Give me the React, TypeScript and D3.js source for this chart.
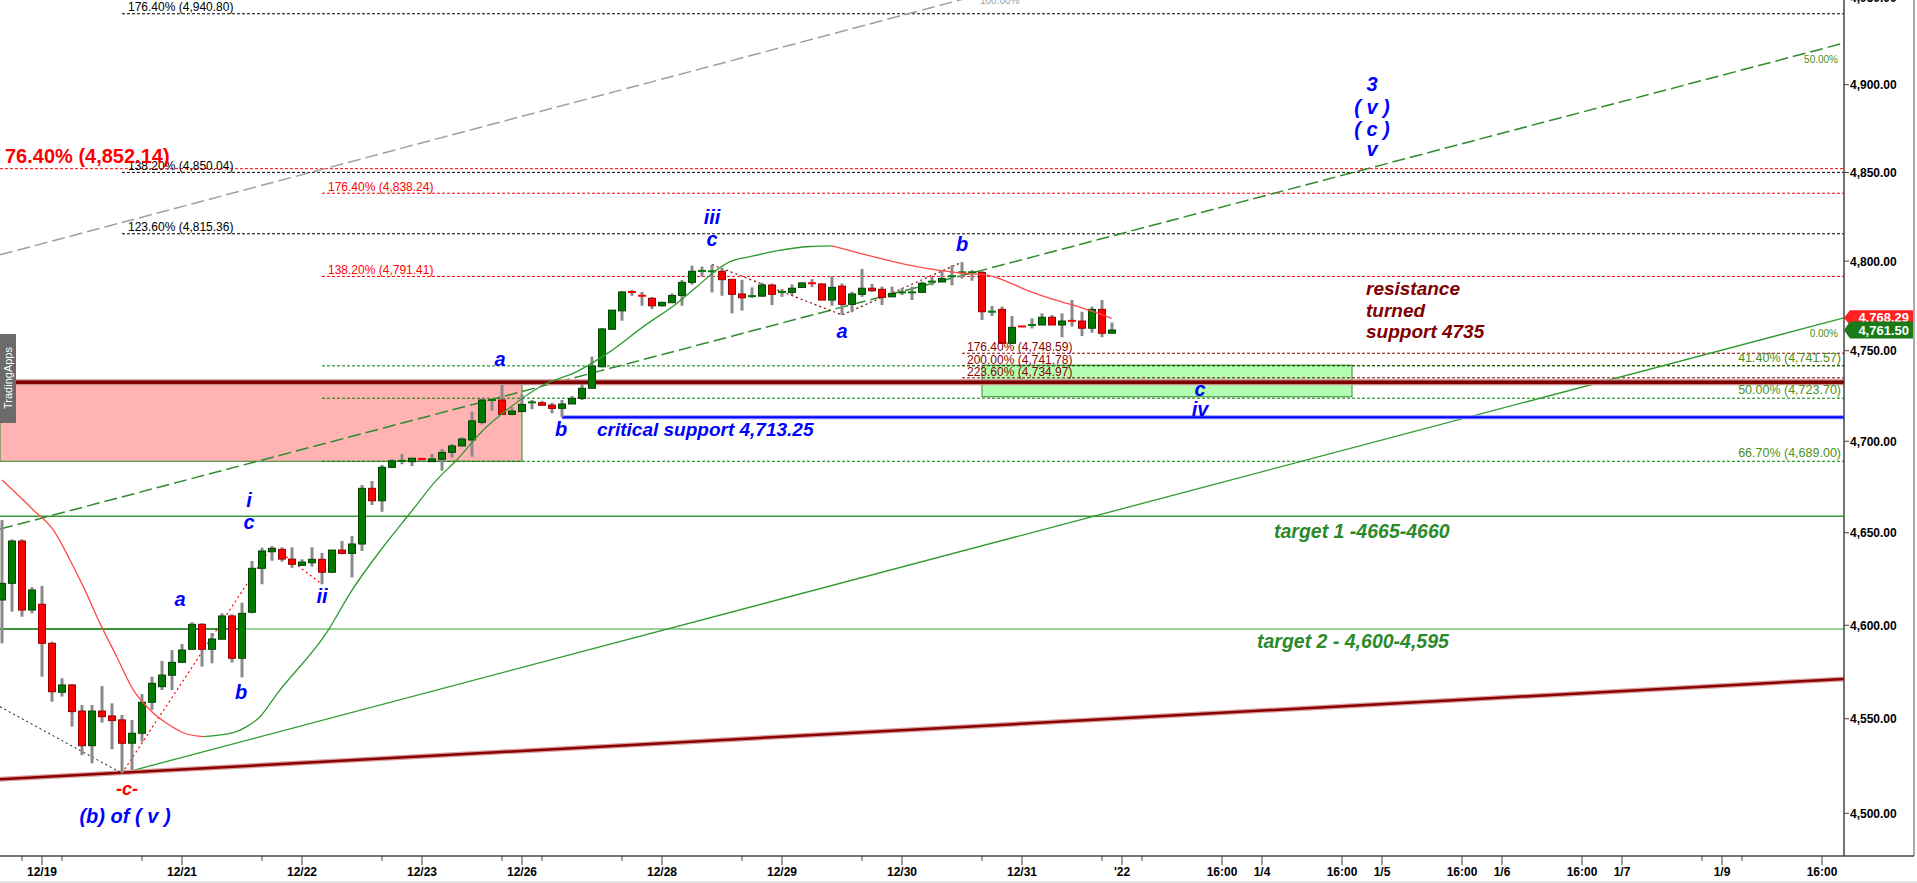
import * as d3 from "d3"

// ES futures, 2h bars from the 12/19 evening session to 12/31 close: [open, high, low, close]
const candles: [number, number, number, number][] = [
  [4613.6, 4656.9, 4590.3, 4622.6],
  [4622.6, 4646.4, 4607.3, 4645.5],
  [4645.5, 4646.4, 4604.6, 4608.2],
  [4608.2, 4620.5, 4606.4, 4619.0],
  [4611.3, 4621.2, 4572.4, 4590.3],
  [4590.3, 4591.2, 4559.1, 4564.4],
  [4564.1, 4571.6, 4561.8, 4568.0],
  [4568.0, 4568.5, 4545.8, 4553.8],
  [4554.1, 4557.3, 4530.7, 4535.7],
  [4535.7, 4557.3, 4526.4, 4554.1],
  [4554.1, 4567.4, 4547.9, 4551.1],
  [4551.5, 4558.2, 4533.8, 4549.0],
  [4549.4, 4552.0, 4521.1, 4537.0],
  [4537.0, 4549.4, 4522.8, 4542.3],
  [4542.3, 4563.2, 4537.8, 4558.8],
  [4558.8, 4572.4, 4554.7, 4568.9],
  [4567.1, 4580.8, 4565.3, 4573.3],
  [4573.2, 4586.7, 4565.3, 4580.1],
  [4580.1, 4589.9, 4580.0, 4586.7],
  [4587.1, 4601.6, 4587.1, 4600.5],
  [4600.5, 4601.1, 4577.8, 4587.1],
  [4587.1, 4595.8, 4579.6, 4592.6],
  [4592.5, 4606.4, 4592.5, 4605.0],
  [4605.0, 4605.9, 4580.0, 4582.3],
  [4582.3, 4612.1, 4572.1, 4606.4],
  [4607.0, 4634.7, 4606.4, 4630.7],
  [4630.7, 4641.9, 4622.1, 4640.1],
  [4639.7, 4642.8, 4634.8, 4641.5],
  [4641.0, 4642.1, 4634.3, 4635.7],
  [4635.7, 4642.1, 4631.0, 4632.9],
  [4632.3, 4635.6, 4632.3, 4634.1],
  [4633.7, 4642.1, 4631.6, 4635.6],
  [4635.6, 4639.1, 4622.1, 4628.6],
  [4628.6, 4640.6, 4628.1, 4640.6],
  [4640.6, 4645.5, 4638.3, 4638.8],
  [4638.8, 4648.2, 4625.8, 4643.9],
  [4643.9, 4676.0, 4640.1, 4674.2],
  [4674.2, 4678.2, 4665.1, 4667.4],
  [4667.4, 4687.0, 4661.4, 4685.7],
  [4685.7, 4690.4, 4685.2, 4689.2],
  [4688.6, 4693.0, 4687.4, 4689.2],
  [4688.8, 4690.7, 4686.4, 4690.7],
  [4690.3, 4690.5, 4688.8, 4689.0],
  [4688.8, 4693.0, 4688.8, 4690.3],
  [4690.1, 4695.7, 4683.8, 4693.9],
  [4693.9, 4698.5, 4691.0, 4697.4],
  [4697.4, 4702.2, 4697.4, 4701.2],
  [4700.7, 4716.3, 4691.5, 4711.2],
  [4710.4, 4723.6, 4709.3, 4722.7],
  [4722.4, 4723.6, 4716.8, 4722.7],
  [4722.7, 4731.0, 4714.8, 4714.8],
  [4714.8, 4718.7, 4714.3, 4716.6],
  [4716.3, 4726.0, 4716.3, 4720.3],
  [4720.3, 4722.7, 4717.6, 4721.4],
  [4721.2, 4722.3, 4719.8, 4719.8],
  [4719.9, 4721.2, 4715.4, 4718.1],
  [4718.1, 4722.7, 4713.25, 4720.5],
  [4720.5, 4725.0, 4720.5, 4723.6],
  [4723.6, 4731.4, 4722.7, 4729.2],
  [4729.2, 4746.7, 4729.2, 4741.5],
  [4741.1, 4762.5, 4740.8, 4762.1],
  [4761.9, 4772.6, 4761.9, 4772.6],
  [4772.2, 4783.3, 4766.7, 4782.7],
  [4782.7, 4783.8, 4780.6, 4782.4],
  [4780.6, 4782.7, 4775.0, 4780.3],
  [4779.2, 4779.9, 4773.2, 4775.0],
  [4775.0, 4777.3, 4774.5, 4776.9],
  [4776.7, 4781.9, 4776.7, 4780.8],
  [4780.8, 4789.4, 4775.0, 4788.1],
  [4788.1, 4797.5, 4786.8, 4794.3],
  [4794.3, 4796.9, 4791.3, 4794.5],
  [4794.2, 4798.0, 4782.5, 4794.3],
  [4794.3, 4796.0, 4780.6, 4789.6],
  [4789.8, 4790.0, 4770.8, 4781.4],
  [4781.6, 4789.5, 4772.3, 4779.5],
  [4780.3, 4785.3, 4779.5, 4780.4],
  [4780.4, 4787.9, 4780.0, 4786.6],
  [4786.6, 4787.4, 4775.4, 4781.4],
  [4782.5, 4784.4, 4780.0, 4782.7],
  [4782.5, 4787.0, 4781.0, 4784.8],
  [4785.2, 4788.0, 4785.0, 4787.8],
  [4787.6, 4789.9, 4785.4, 4787.3],
  [4787.2, 4787.5, 4778.2, 4778.2],
  [4778.2, 4791.6, 4775.0, 4785.3],
  [4786.0, 4787.5, 4769.9, 4775.8],
  [4775.8, 4782.9, 4771.4, 4781.6],
  [4781.4, 4795.6, 4780.0, 4784.8],
  [4784.8, 4787.2, 4782.9, 4783.4],
  [4784.2, 4785.7, 4775.4, 4779.7],
  [4780.0, 4785.7, 4780.0, 4781.9],
  [4782.4, 4784.8, 4781.0, 4782.5],
  [4782.4, 4785.7, 4778.2, 4782.5],
  [4782.5, 4788.5, 4782.5, 4787.6],
  [4788.4, 4791.1, 4786.4, 4788.5],
  [4788.3, 4794.4, 4788.3, 4790.2],
  [4790.2, 4797.7, 4786.4, 4791.5],
  [4793.6, 4799.4, 4790.2, 4793.7],
  [4793.6, 4794.9, 4789.0, 4793.7],
  [4793.7, 4794.3, 4767.1, 4771.7],
  [4771.6, 4774.9, 4769.3, 4771.7],
  [4773.0, 4774.6, 4753.7, 4754.1],
  [4754.1, 4769.3, 4753.8, 4763.0],
  [4763.5, 4763.7, 4763.0, 4763.2],
  [4763.0, 4768.0, 4762.4, 4764.3],
  [4764.3, 4770.8, 4764.3, 4768.6],
  [4768.6, 4769.9, 4764.3, 4764.3],
  [4764.3, 4770.8, 4757.5, 4766.5],
  [4766.6, 4778.2, 4763.4, 4766.4],
  [4766.5, 4771.7, 4758.1, 4762.5],
  [4762.5, 4774.5, 4760.0, 4773.0],
  [4773.0, 4778.2, 4757.5, 4759.7],
  [4759.7, 4765.7, 4759.7, 4761.5],
]

// smoothed trend indicator (bar index, price)
const trendCurve = [
  { i: 0, p: 4678.8 }, { i: 3.13, p: 4662.4 }, { i: 5.13, p: 4651.5 }, { i: 6.8, p: 4635.2 },
  { i: 8.13, p: 4620.8 }, { i: 9.8, p: 4601.0 }, { i: 11.47, p: 4583.1 }, { i: 13.13, p: 4565.4 },
  { i: 14.8, p: 4554.7 }, { i: 16.47, p: 4547.6 }, { i: 18.47, p: 4541.9 }, { i: 20.13, p: 4540.5 },
  { i: 23.13, p: 4542.6 }, { i: 24.47, p: 4545.8 }, { i: 25.8, p: 4551.1 }, { i: 27.56, p: 4563.7 },
  { i: 32.63, p: 4597.4 }, { i: 34.8, p: 4617.2 }, { i: 38.13, p: 4642.4 }, { i: 40.8, p: 4660.6 },
  { i: 43.47, p: 4678.8 }, { i: 45.47, p: 4689.7 }, { i: 48.13, p: 4706.2 }, { i: 50.47, p: 4717.2 },
  { i: 54.13, p: 4731.0 }, { i: 57.47, p: 4738.4 }, { i: 60.8, p: 4749.5 }, { i: 64.13, p: 4763.4 },
  { i: 67.47, p: 4776.3 }, { i: 69.47, p: 4785.6 }, { i: 71.47, p: 4795.0 }, { i: 72.8, p: 4799.7 },
  { i: 74.8, p: 4802.5 }, { i: 77.47, p: 4805.7 }, { i: 80.78, p: 4808.2 }, { i: 82.97, p: 4808.6 },
  { i: 85.8, p: 4804.4 }, { i: 89.13, p: 4799.7 }, { i: 91.47, p: 4796.9 }, { i: 94.13, p: 4794.5 },
  { i: 96.13, p: 4793.2 }, { i: 98.47, p: 4792.2 }, { i: 100.13, p: 4789.4 }, { i: 102.47, p: 4783.8 },
  { i: 104.8, p: 4779.1 }, { i: 107.13, p: 4775.4 }, { i: 109.13, p: 4771.7 }, { i: 110.97, p: 4768.0 },
]

// fibonacci levels: value, label, first bar
const blackLevels = [
  { value: 4940.8, text: "176.40% (4,940.80)", from: 12 },
  { value: 4850.04, text: "138.20% (4,850.04)", from: 12 },
  { value: 4815.36, text: "123.60% (4,815.36)", from: 12 },
]
const redLevels = [
  { value: 4838.24, text: "176.40% (4,838.24)", from: 32 },
  { value: 4791.41, text: "138.20% (4,791.41)", from: 32 },
]
const mainRetrace = { value: 4852.14, text: "76.40% (4,852.14)", from: -0.2 }
const extLevels = [
  { value: 4748.59, text: "176.40% (4,748.59)", from: 96 },
  { value: 4741.78, text: "200.00% (4,741.78)", from: 96 },
  { value: 4734.97, text: "223.60% (4,734.97)", from: 96 },
]
const greenLevels = [
  { value: 4741.57, text: "41.40% (4,741.57)", from: 32 },
  { value: 4723.7, text: "50.00% (4,723.70)", from: 32 },
  { value: 4689.0, text: "66.70% (4,689.00)", from: 32 },
]

const turnedSupport = 4732.5
const criticalSupport = { value: 4713.25, from: 56 }
const target1 = 4659
const target2 = 4598
const lastPrice = 4761.5
const trendPrice = 4768.29

const pinkZone = { from: -0.2, to: 52, top: 4732.5, bottom: 4689 }
const greenZone = { from: 98, to: 135, top: 4742, bottom: 4724.5 }

// trend lines and wave legs (bar index, price)
const baseTrend = [{ i: -0.2, p: 4517.9 }, { i: 184.2, p: 4571.2 }]
const risingTrend = [{ i: 12, p: 4521.1 }, { i: 184.2, p: trendPrice }]
const channelMid = [{ i: -0.2, p: 4652.0 }, { i: 184.2, p: 4923.9 }]
const channelTop = [{ i: -0.2, p: 4803.5 }, { i: 184.2, p: 5086.4 }]
const fallLeg = [{ i: -0.2, p: 4556.4 }, { i: 12, p: 4521.1 }]
const legsLeft = [{ i: 12, p: 4521.1 }, { i: 27, p: 4642.8 }, { i: 32, p: 4622.1 }]
const legsRight = [{ i: 71, p: 4798.0 }, { i: 84, p: 4769.9 }, { i: 96, p: 4799.4 }]

const waveLabels = [
  { t: "iii", i: 71, p: 4820.9 }, { t: "c", i: 71, p: 4808.5 },
  { t: "b", i: 96, p: 4805.7 }, { t: "a", i: 84, p: 4757.1 },
  { t: "a", i: 49.8, p: 4741.5 }, { t: "b", i: 55.9, p: 4702.9 },
  { t: "c", i: 119.8, p: 4724.9 }, { t: "iv", i: 119.8, p: 4713.9 },
  { t: "i", i: 24.7, p: 4664.0 }, { t: "c", i: 24.7, p: 4652.1 },
  { t: "ii", i: 32, p: 4612.0 }, { t: "a", i: 17.8, p: 4610.4 },
  { t: "b", i: 23.9, p: 4560.5 }, { t: "(b) of ( v )", i: 12.3, p: 4494.9 },
  { t: "3", i: 137, p: 4896.4 }, { t: "( v )", i: 137, p: 4883.2 },
  { t: "( c )", i: 137, p: 4870.7 }, { t: "v", i: 137, p: 4859.3 },
]
const resistanceNote = [
  { t: "resistance", p: 4781.0 }, { t: "turned", p: 4768.8 }, { t: "support 4735", p: 4757.1 },
]

const xTickLabels = [
  { i: 4, t: "12/19" }, { i: 18, t: "12/21" }, { i: 30, t: "12/22" }, { i: 42, t: "12/23" },
  { i: 52, t: "12/26" }, { i: 66, t: "12/28" }, { i: 78, t: "12/29" }, { i: 90, t: "12/30" },
  { i: 102, t: "12/31" }, { i: 112, t: "'22" }, { i: 122, t: "16:00" }, { i: 126, t: "1/4" },
  { i: 134, t: "16:00" }, { i: 138, t: "1/5" }, { i: 146, t: "16:00" }, { i: 150, t: "1/6" },
  { i: 158, t: "16:00" }, { i: 162, t: "1/7" }, { i: 172, t: "1/9" }, { i: 182, t: "16:00" },
]
const xMinorTicks = [2, 6, 14, 26, 38, 50, 54, 62, 74, 86, 98, 110, 114, 170, 174]
const yTicks = [4500, 4550, 4600, 4650, 4700, 4750, 4800, 4850, 4900, 4950]

const FONT = "'Liberation Sans', Arial, sans-serif"
const W = 1917
const H = 883
const AXIS_X = 1844
const AXIS_Y = 856

type P = { i: number; p: number }

export default function App() {
  const x = d3.scaleLinear().domain([0, 184.2]).range([2, AXIS_X])
  const y = d3.scaleLog().domain([4500, 4900]).range([813.3, 84.7])
  const line = d3.line<P>().x((d) => x(d.i)).y((d) => y(d.p))
  const smooth = d3.line<P>().x((d) => x(d.i)).y((d) => y(d.p)).curve(d3.curveMonotoneX)
  const fmt = d3.format(",.2f")

  // split the indicator into rising / falling runs
  const runs: { up: boolean; pts: P[] }[] = []
  for (let k = 1; k < trendCurve.length; k++) {
    const up = trendCurve[k].p >= trendCurve[k - 1].p
    const last = runs[runs.length - 1]
    if (last && last.up === up) last.pts.push(trendCurve[k])
    else runs.push({ up, pts: [trendCurve[k - 1], trendCurve[k]] })
  }

  const hLine = (value: number, from: number, stroke: string, dash?: string, width = 1) => (
    <line
      x1={x(from)} x2={AXIS_X} y1={y(value)} y2={y(value)}
      stroke={stroke} strokeWidth={width} strokeDasharray={dash}
    />
  )

  const tag = (value: number, fill: string, h: number) => {
    const cy = y(value)
    const pts = [
      [AXIS_X, cy], [AXIS_X + 6, cy - h / 2], [W - 4, cy - h / 2], [W - 4, cy + h / 2], [AXIS_X + 6, cy + h / 2],
    ].map((d) => d.join(",")).join(" ")
    return (
      <g>
        <polygon points={pts} fill={fill} />
        <text x={W - 8} y={cy + 4.5} textAnchor="end" fontSize={13} fontWeight="bold" fill="#fff">
          {fmt(value)}
        </text>
      </g>
    )
  }

  return (
    <svg
      width={W} height={H}
      style={{ position: "absolute", left: 0, top: 0, background: "#fff" }}
      fontFamily={FONT}
    >
      <defs>
        <clipPath id="plot">
          <rect x={0} y={0} width={AXIS_X} height={AXIS_Y} />
        </clipPath>
      </defs>

      <g clipPath="url(#plot)">
        {/* zones */}
        <rect
          x={x(pinkZone.from)} width={x(pinkZone.to) - x(pinkZone.from)}
          y={y(pinkZone.top)} height={y(pinkZone.bottom) - y(pinkZone.top)}
          fill="#ffb3b3" stroke="#2e8b2e" strokeWidth={1}
        />
        <rect
          x={x(greenZone.from)} width={x(greenZone.to) - x(greenZone.from)}
          y={y(greenZone.top)} height={y(greenZone.bottom) - y(greenZone.top)}
          fill="#b3ffb3" stroke="#2e8b2e" strokeWidth={1}
        />

        {/* fib levels */}
        {blackLevels.map((d) => <g key={d.text}>{hLine(d.value, d.from, "#000", "3,2")}</g>)}
        {redLevels.map((d) => <g key={d.text}>{hLine(d.value, d.from, "#ff0000", "3,2")}</g>)}
        {hLine(mainRetrace.value, mainRetrace.from, "#ff0000", "3,2")}
        {extLevels.map((d) => <g key={d.text}>{hLine(d.value, d.from, "#8b0000", "3,2")}</g>)}
        {greenLevels.map((d) => <g key={d.text}>{hLine(d.value, d.from, "#008000", "3,2")}</g>)}

        {/* targets */}
        {hLine(target1, -0.2, "#3a9a3a", undefined, 1.5)}
        {hLine(target2, -0.2, "#79c279", undefined, 1.5)}
        <line x1={0} x2={x(24.3)} y1={y(target2)} y2={y(target2)} stroke="#1a7f1a" strokeWidth={1.5} />

        {/* trend lines */}
        <path d={line(channelTop) ?? ""} fill="none" stroke="#a0a0a0" strokeWidth={1.5} strokeDasharray="13,5" />
        <path d={line(channelMid) ?? ""} fill="none" stroke="#2e8b2e" strokeWidth={1.5} strokeDasharray="13,5" />
        <path d={line(risingTrend) ?? ""} fill="none" stroke="#2e9a2e" strokeWidth={1.3} />
        <path d={line(baseTrend) ?? ""} fill="none" stroke="#d9a0a0" strokeWidth={5} />
        <path d={line(baseTrend) ?? ""} fill="none" stroke="#8b0000" strokeWidth={2.5} />
        <path d={line(fallLeg) ?? ""} fill="none" stroke="#000" strokeWidth={1} strokeDasharray="2,3" />
        <path d={line(legsLeft) ?? ""} fill="none" stroke="#ff0000" strokeWidth={1.2} strokeDasharray="2,3" />
        <path d={line(legsRight) ?? ""} fill="none" stroke="#8b0000" strokeWidth={1.2} strokeDasharray="2,3" />

        {/* resistance turned support */}
        {hLine(turnedSupport, -0.2, "#c99090", undefined, 6)}
        {hLine(turnedSupport, -0.2, "#800000", undefined, 3.5)}

        {/* critical support */}
        {hLine(criticalSupport.value, criticalSupport.from, "#8f8fff", undefined, 4)}
        {hLine(criticalSupport.value, criticalSupport.from, "#0000ff", undefined, 2)}

        {/* candles */}
        {candles.map(([o, h, l, c], i) => {
          const cx = x(i)
          const up = c >= o
          const top = y(Math.max(o, c))
          const bot = y(Math.min(o, c))
          const bh = bot - top
          return (
            <g key={i}>
              <line x1={cx} x2={cx} y1={y(h)} y2={y(l)} stroke="#8a8a8a" strokeWidth={3} />
              {bh < 2.5 ? (
                <rect x={cx - 4} y={top - 1} width={8} height={2} fill={up ? "#007a00" : "#ff0000"} />
              ) : (
                <rect
                  x={cx - 3.5} y={top} width={7} height={bh}
                  fill={up ? "#007a00" : "#ff0000"}
                  stroke={up ? "#004400" : "#990000"} strokeWidth={1}
                />
              )}
            </g>
          )
        })}

        {/* indicator */}
        {runs.map((r, k) => (
          <path
            key={k} d={smooth(r.pts) ?? ""} fill="none"
            stroke={r.up ? "#2e9a2e" : "#ff4a4a"} strokeWidth={1.3}
          />
        ))}
      </g>

      {/* level labels */}
      {blackLevels.map((d) => (
        <text key={d.text} x={x(d.from) + 6} y={y(d.value) - 2.5} fontSize={12} fill="#000">{d.text}</text>
      ))}
      {redLevels.map((d) => (
        <text key={d.text} x={x(d.from) + 6} y={y(d.value) - 2.5} fontSize={12} fill="#ff0000">{d.text}</text>
      ))}
      <text x={5} y={y(mainRetrace.value) - 6} fontSize={20} fontWeight="bold" fill="#ff0000">
        {mainRetrace.text}
      </text>
      {extLevels.map((d) => (
        <text key={d.text} x={x(d.from) + 5} y={y(d.value) - 2} fontSize={12} fill="#8b0000">{d.text}</text>
      ))}
      {greenLevels.map((d) => (
        <text key={d.text} x={AXIS_X - 3} y={y(d.value) - 4} textAnchor="end" fontSize={12.5} fill="#4d8f1a">
          {d.text}
        </text>
      ))}
      <text x={AXIS_X - 6} y={y(lastPrice) + 6.5} textAnchor="end" fontSize={10} fill="#4d8f1a">0.00%</text>
      <text x={AXIS_X - 6} y={y(4912.4)} textAnchor="end" fontSize={10} fill="#4d8f1a">50.00%</text>
      <text x={x(97.8)} y={y(4946.4)} fontSize={10} fill="#a0a0a0">100.00%</text>

      {/* wave labels */}
      {waveLabels.map((d, k) => (
        <text
          key={k} x={x(d.i)} y={y(d.p)} textAnchor="middle"
          fontSize={20} fontStyle="italic" fontWeight="bold" fill="#0000ff"
        >
          {d.t}
        </text>
      ))}
      <text x={x(12.5)} y={y(4509.6)} textAnchor="middle" fontSize={18} fontStyle="italic" fontWeight="bold" fill="#ff0000">
        -c-
      </text>
      <text x={x(59.5)} y={y(4702.9)} fontSize={19} fontStyle="italic" fontWeight="bold" fill="#0000ff">
        critical support 4,713.25
      </text>
      {resistanceNote.map((d) => (
        <text key={d.t} x={x(136.4)} y={y(d.p)} fontSize={19} fontStyle="italic" fontWeight="bold" fill="#800000">
          {d.t}
        </text>
      ))}
      <text x={x(127.2)} y={y(4647.2)} fontSize={19.5} fontStyle="italic" fontWeight="bold" fill="#2a8a2a">
        target 1 -4665-4660
      </text>
      <text x={x(125.5)} y={y(4587.8)} fontSize={19.5} fontStyle="italic" fontWeight="bold" fill="#2a8a2a">
        target 2 - 4,600-4,595
      </text>

      {/* watermark */}
      <rect x={0} y={334} width={16} height={89} fill="#6b6b6b" />
      <text
        transform="translate(12,378) rotate(-90)" textAnchor="middle"
        fontSize={11} fill="#fff"
      >
        TradingApps
      </text>

      {/* price axis */}
      <line x1={AXIS_X} x2={AXIS_X} y1={0} y2={AXIS_Y} stroke="#444" strokeWidth={1.5} />
      {yTicks.map((v) => (
        <g key={v}>
          <line x1={AXIS_X} x2={AXIS_X + 5} y1={y(v)} y2={y(v)} stroke="#444" />
          <text x={AXIS_X + 6} y={y(v) + 4.5} fontSize={12} fontWeight="bold" fill="#000">{fmt(v)}</text>
        </g>
      ))}
      {tag(trendPrice, "#ff2020", 15)}
      {tag(lastPrice, "#1a7a1a", 17)}
      <line x1={W - 3} x2={W - 3} y1={0} y2={AXIS_Y} stroke="#555" strokeWidth={1} />

      {/* time axis */}
      <line x1={0} x2={W - 3} y1={AXIS_Y} y2={AXIS_Y} stroke="#444" strokeWidth={1.5} />
      {xMinorTicks.map((i) => (
        <line key={i} x1={x(i)} x2={x(i)} y1={AXIS_Y} y2={AXIS_Y + 5} stroke="#444" />
      ))}
      {xTickLabels.map((d) => (
        <g key={d.i}>
          <line x1={x(d.i)} x2={x(d.i)} y1={AXIS_Y} y2={AXIS_Y + 9} stroke="#444" />
          <text x={x(d.i)} y={AXIS_Y + 20} textAnchor="middle" fontSize={12} fontWeight="bold" fill="#000">
            {d.t}
          </text>
        </g>
      ))}
      <rect x={0} y={H - 2} width={W} height={2} fill="#e6e6e6" />
    </svg>
  )
}
